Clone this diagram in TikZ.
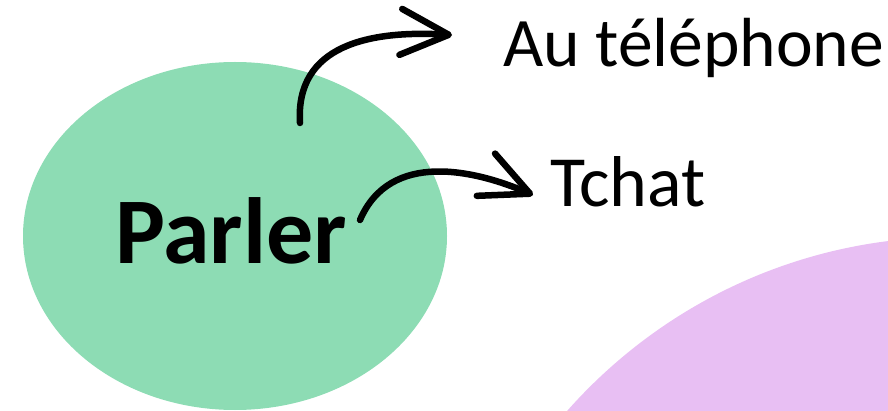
\documentclass[tikz,border=0pt]{standalone}
\usepackage{fontspec}
\setmainfont{Carlito}
\usepackage{xcolor}
\usetikzlibrary{shapes.geometric,arrows.meta}
\definecolor{parlergreen}{HTML}{8DDCB4}
\definecolor{lilac}{HTML}{E8BFF3}
\tikzset{
  bulle/.style={ellipse,fill=parlergreen,inner sep=0pt,minimum width=424pt,minimum height=348pt},
  etiquette/.style={anchor=base west,inner sep=0pt,font=\fontsize{72pt}{74pt}\selectfont},
  fleche/.style={line width=6.5pt,line cap=round,-{Straight Barb[round,length=48pt,width=46pt]}}
}
\begin{document}
\begin{tikzpicture}[x=1pt,y=-1pt]
\useasboundingbox (0,0) rectangle (888,411);
\clip (0,0) rectangle (888,411);
\fill[lilac] (953,752) circle (515pt);
\node (bulle) at (235,236) [bulle] {};
\node (parler) at (231,231) {\fontsize{94pt}{96pt}\selectfont\bfseries Parler};
\node (tel) at (503,67) [etiquette,font=\fontsize{69.5pt}{72pt}\selectfont] {Au téléphone};
\node (tchat) at (550,207) [etiquette] {Tchat};
\coordinate (d1) at (300,123);
\coordinate (f1) at (452,35);
\coordinate (d2) at (360,220);
\coordinate (f2) at (533,195);
\draw[fleche] (d1) .. controls (295,45) and (370,30) .. (f1);
\draw[fleche] (d2) .. controls (390,150) and (475,170) .. (f2);
\end{tikzpicture}
\end{document}
